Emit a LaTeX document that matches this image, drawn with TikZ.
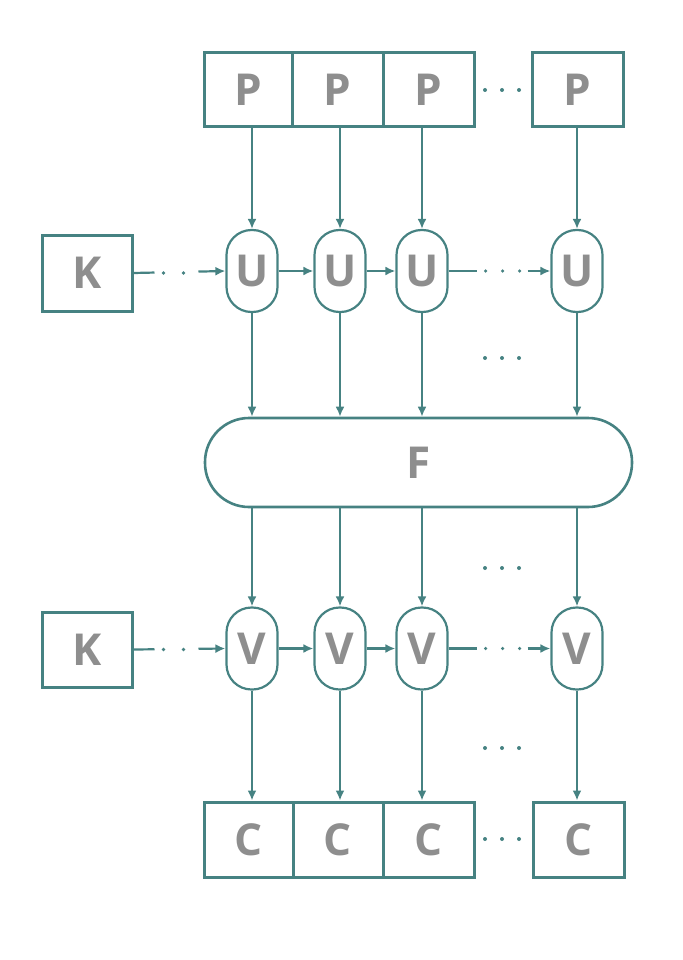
\documentclass[tikz,border=0pt]{standalone}
\usepackage{fontspec}
\setmainfont{Open Sans}
\usetikzlibrary{arrows.meta}
\definecolor{teal1}{HTML}{468282}
\definecolor{label}{HTML}{8E8E8E}
\tikzset{
  lettering/.style={font=\fontsize{44}{44}\selectfont\bfseries, text=label},
  box/.style={draw=teal1, line width=3pt, minimum height=74pt, inner sep=0pt, lettering},
  oval/.style={draw=teal1, line width=2.2pt, rounded corners=25pt,
    minimum width=51pt, minimum height=82pt, inner sep=0pt, lettering},
  bar/.style={draw=teal1, line width=2.6pt, rounded corners=44pt,
    minimum width=427pt, minimum height=89pt, inner sep=0pt, lettering},
  flow/.style={draw=teal1, line width=2.2pt, -{Latex[length=10pt,width=9pt]}},
  dotmark/.style={fill=teal1},
  keydash/.style={dash pattern=on 21pt off 44pt on 300pt},
  gapdash/.style={dash pattern=on 28pt off 51pt on 300pt}
}
\begin{document}
\begin{tikzpicture}[x=1pt, y=-1pt]
\useasboundingbox (0,0) rectangle (682,960);

% plaintext blocks
\node[box, minimum width=88pt] (P1) at (248,90) {P};
\node[box, minimum width=91pt] (P2) at (337.5,90) {P};
\node[box, minimum width=91pt] (P3) at (428.5,90) {P};
\node[box, minimum width=91pt] (P4) at (577.5,90) {P};

% keys
\node[box, minimum width=90pt, minimum height=76pt] (K1) at (87,273) {K};
\node[box, minimum width=90pt, minimum height=75pt] (K2) at (87,649.5) {K};

% first round units
\node[oval] (U1) at (252,271) {U};
\node[oval] (U2) at (340,271) {U};
\node[oval] (U3) at (422,271) {U};
\node[oval] (U4) at (577,271) {U};

% mixing stage
\node[bar] (F) at (418.5,462.5) {F};

% second round units
\node[oval] (V1) at (252,648.5) {V};
\node[oval] (V2) at (340,648.5) {V};
\node[oval] (V3) at (422,648.5) {V};
\node[oval] (V4) at (577,648.5) {V};

% ciphertext blocks
\node[box, minimum width=89pt, minimum height=75pt] (C1) at (248.5,839.5) {C};
\node[box, minimum width=90pt, minimum height=75pt] (C2) at (338,839.5) {C};
\node[box, minimum width=91pt, minimum height=75pt] (C3) at (428.5,839.5) {C};
\node[box, minimum width=91pt, minimum height=75pt] (C4) at (578.5,839.5) {C};

% P -> U
\foreach \i in {1,2,3,4}
  \draw[flow] (U\i |- P\i.south) -- (U\i.north);
% U -> F
\foreach \i in {1,2,3,4}
  \draw[flow] (U\i.south) -- (U\i |- F.north);
% F -> V
\foreach \i in {1,2,3,4}
  \draw[flow] (V\i |- F.south) -- (V\i.north);
% V -> C
\foreach \i in {1,2,3,4}
  \draw[flow] (V\i.south) -- (V\i |- C\i.north);

% key chains, with dotted gaps
\foreach \r/\k in {U/K1, V/K2} {
  \draw[flow, keydash] (\k.east) -- (\r1.west);
  \draw[flow] (\r1.east) -- (\r2.west);
  \draw[flow] (\r2.east) -- (\r3.west);
  \draw[flow, gapdash] (\r3.east) -- (\r4.west);
  \foreach \s in {30,50}
    \fill[dotmark] ([xshift=\s pt]\k.east) circle (1.8pt);
  \foreach \s in {37,54,71}
    \fill[dotmark] ([xshift=\s pt]\r3.east) circle (1.8pt);
}

% ellipses for omitted columns
\foreach \y in {90,358,568,748,839}
  \foreach \x in {485,502,519}
    \fill[dotmark] (\x,\y) circle (2pt);

\end{tikzpicture}
\end{document}
